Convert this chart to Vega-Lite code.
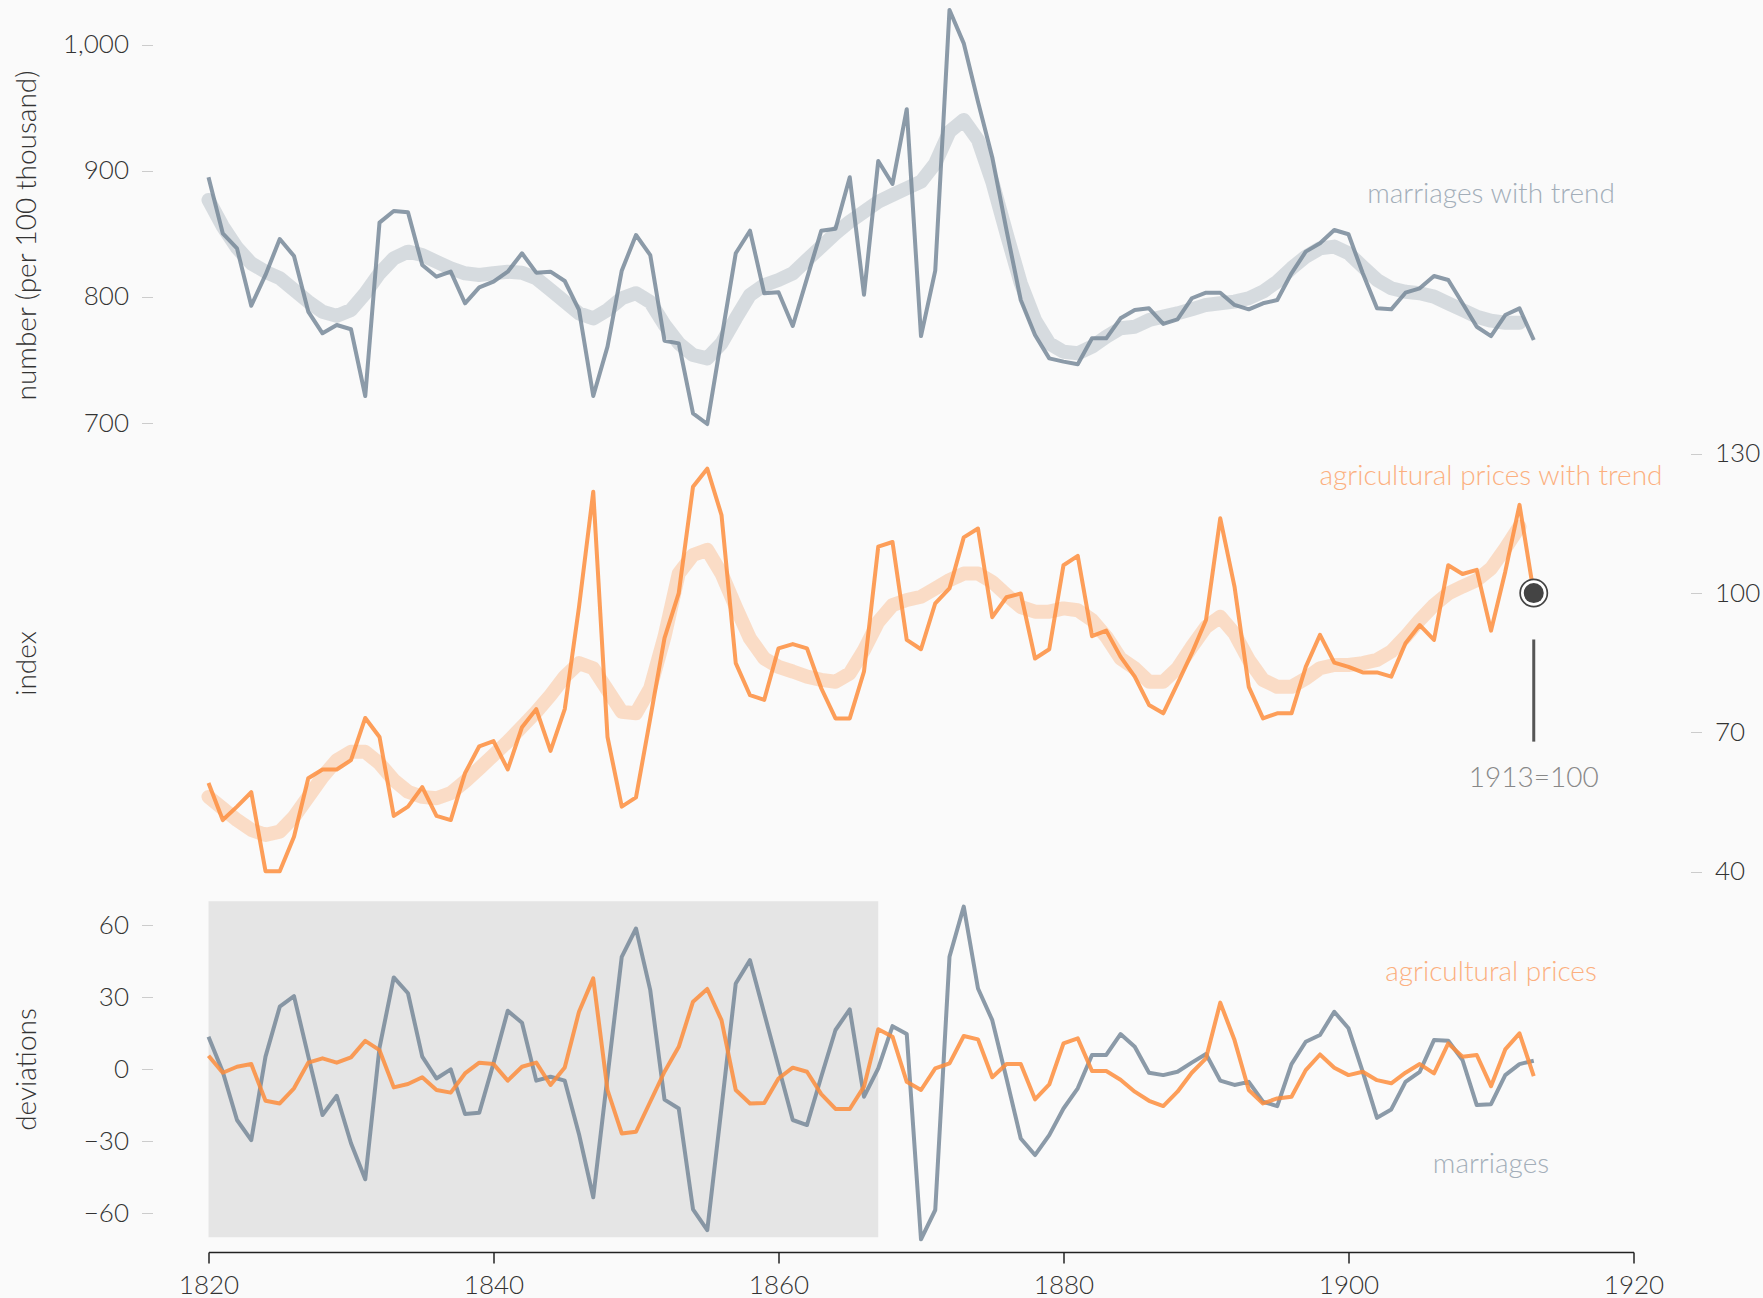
{
  "$schema": "https://vega.github.io/schema/vega-lite/v6.json",
  "background": "#fafafa",
  "autosize": {"type": "pad"},
  "padding": {"left": 12.5, "top": 0, "right": 5, "bottom": 0},
  "bounds": "flush",
  "spacing": 0,
  "config": {
    "view": {"stroke": null},
    "font": "Lato",
    "axis": {
      "grid": false,
      "labelFont": "Lato", "labelFontSize": 26, "labelFontWeight": 300, "labelColor": "#333333",
      "titleFont": "Lato", "titleFontSize": 28, "titleFontWeight": 300, "titleColor": "#333333"
    }
  },
  "datasets": {
    "years": [
      {"year":1820,"marriages":895,"marriageTrend":877,"prices":59.1,"priceTrend":56.1,"marriageDeviation":13.6,"priceDeviation":5.7},
      {"year":1821,"marriages":850.5,"marriageTrend":856,"prices":51.1,"priceTrend":53.6,"marriageDeviation":-1,"priceDeviation":-1.4},
      {"year":1822,"marriages":838.6,"marriageTrend":839,"prices":54,"priceTrend":51.1,"marriageDeviation":-21.1,"priceDeviation":1.1},
      {"year":1823,"marriages":793.1,"marriageTrend":826.7,"prices":57.1,"priceTrend":49,"marriageDeviation":-29.5,"priceDeviation":2.2},
      {"year":1824,"marriages":817.5,"marriageTrend":820,"prices":40.1,"priceTrend":47.9,"marriageDeviation":5.3,"priceDeviation":-13.1},
      {"year":1825,"marriages":846,"marriageTrend":815,"prices":40.1,"priceTrend":48.6,"marriageDeviation":26.1,"priceDeviation":-14.2},
      {"year":1826,"marriages":832.5,"marriageTrend":805.6,"prices":47.5,"priceTrend":51.8,"marriageDeviation":30.5,"priceDeviation":-7.9},
      {"year":1827,"marriages":788.4,"marriageTrend":796.3,"prices":60.1,"priceTrend":56.1,"marriageDeviation":5.5,"priceDeviation":2.8},
      {"year":1828,"marriages":771.2,"marriageTrend":788.3,"prices":62,"priceTrend":60.4,"marriageDeviation":-19,"priceDeviation":4.6},
      {"year":1829,"marriages":777.8,"marriageTrend":785,"prices":62,"priceTrend":64,"marriageDeviation":-11,"priceDeviation":2.8},
      {"year":1830,"marriages":774.4,"marriageTrend":789.7,"prices":64,"priceTrend":65.8,"marriageDeviation":-30.8,"priceDeviation":5},
      {"year":1831,"marriages":721.4,"marriageTrend":802.9,"prices":73.1,"priceTrend":65.8,"marriageDeviation":-45.8,"priceDeviation":11.9},
      {"year":1832,"marriages":859,"marriageTrend":818.8,"prices":69,"priceTrend":63.3,"marriageDeviation":9,"priceDeviation":8},
      {"year":1833,"marriages":868.3,"marriageTrend":830.7,"prices":52,"priceTrend":59.7,"marriageDeviation":38.3,"priceDeviation":-7.5},
      {"year":1834,"marriages":867.2,"marriageTrend":836,"prices":54,"priceTrend":57.2,"marriageDeviation":31.7,"priceDeviation":-6.1},
      {"year":1835,"marriages":825.4,"marriageTrend":833.3,"prices":58.2,"priceTrend":56.1,"marriageDeviation":5.3,"priceDeviation":-3.3},
      {"year":1836,"marriages":816.1,"marriageTrend":828,"prices":52,"priceTrend":55.8,"marriageDeviation":-3.8,"priceDeviation":-8.6},
      {"year":1837,"marriages":820.1,"marriageTrend":822.8,"prices":51.1,"priceTrend":56.9,"marriageDeviation":0,"priceDeviation":-9.7},
      {"year":1838,"marriages":795,"marriageTrend":818.8,"prices":61.2,"priceTrend":59.4,"marriageDeviation":-18.6,"priceDeviation":-1.7},
      {"year":1839,"marriages":807.7,"marriageTrend":817.5,"prices":67,"priceTrend":62.2,"marriageDeviation":-18.1,"priceDeviation":2.8},
      {"year":1840,"marriages":812.2,"marriageTrend":818.8,"prices":68.1,"priceTrend":65.1,"marriageDeviation":2.5,"priceDeviation":2.2},
      {"year":1841,"marriages":820.1,"marriageTrend":820,"prices":62,"priceTrend":68,"marriageDeviation":24.4,"priceDeviation":-4.7},
      {"year":1842,"marriages":834.7,"marriageTrend":819.3,"prices":71.1,"priceTrend":71.2,"marriageDeviation":19.4,"priceDeviation":1.1},
      {"year":1843,"marriages":819.3,"marriageTrend":814.8,"prices":75,"priceTrend":74.4,"marriageDeviation":-4.7,"priceDeviation":2.8},
      {"year":1844,"marriages":820.1,"marriageTrend":805.6,"prices":66,"priceTrend":78,"marriageDeviation":-3.1,"priceDeviation":-6.5},
      {"year":1845,"marriages":812.7,"marriageTrend":796.3,"prices":75,"priceTrend":82,"marriageDeviation":-4.7,"priceDeviation":0.8},
      {"year":1846,"marriages":789.7,"marriageTrend":787,"prices":97,"priceTrend":84.9,"marriageDeviation":-27,"priceDeviation":24},
      {"year":1847,"marriages":721.4,"marriageTrend":783,"prices":121.8,"priceTrend":83.8,"marriageDeviation":-53.3,"priceDeviation":37.9},
      {"year":1848,"marriages":760.6,"marriageTrend":789.7,"prices":69,"priceTrend":79.1,"marriageDeviation":-3,"priceDeviation":-8.6},
      {"year":1849,"marriages":820.9,"marriageTrend":799,"prices":54,"priceTrend":74.4,"marriageDeviation":46.9,"priceDeviation":-26.7},
      {"year":1850,"marriages":849.2,"marriageTrend":803,"prices":56,"priceTrend":74.1,"marriageDeviation":58.7,"priceDeviation":-26},
      {"year":1851,"marriages":833.3,"marriageTrend":796,"prices":73,"priceTrend":79.5,"marriageDeviation":33,"priceDeviation":-13.5},
      {"year":1852,"marriages":765.3,"marriageTrend":778,"prices":90.3,"priceTrend":90.6,"marriageDeviation":-12.6,"priceDeviation":-1},
      {"year":1853,"marriages":763.2,"marriageTrend":763.2,"prices":100,"priceTrend":104.2,"marriageDeviation":-16.3,"priceDeviation":9.4},
      {"year":1854,"marriages":707.7,"marriageTrend":754,"prices":122.9,"priceTrend":108.2,"marriageDeviation":-58.3,"priceDeviation":28.2},
      {"year":1855,"marriages":699.2,"marriageTrend":751.3,"prices":126.8,"priceTrend":109.3,"marriageDeviation":-67,"priceDeviation":33.5},
      {"year":1856,"marriages":767.2,"marriageTrend":763.2,"prices":116.8,"priceTrend":104.2,"marriageDeviation":-16,"priceDeviation":20.5},
      {"year":1857,"marriages":834.7,"marriageTrend":783,"prices":84.9,"priceTrend":97,"marriageDeviation":35.8,"priceDeviation":-8.6},
      {"year":1858,"marriages":852.6,"marriageTrend":801.6,"prices":78,"priceTrend":90.2,"marriageDeviation":45.5,"priceDeviation":-14.2},
      {"year":1859,"marriages":802.9,"marriageTrend":809.5,"prices":77,"priceTrend":85.9,"marriageDeviation":23.3,"priceDeviation":-14},
      {"year":1860,"marriages":803.7,"marriageTrend":813.5,"prices":88.1,"priceTrend":84.1,"marriageDeviation":1.1,"priceDeviation":-3.8},
      {"year":1861,"marriages":777,"marriageTrend":818.8,"prices":89,"priceTrend":83.1,"marriageDeviation":-21.1,"priceDeviation":0.7},
      {"year":1862,"marriages":814.8,"marriageTrend":829.4,"prices":88.1,"priceTrend":82,"marriageDeviation":-23.2,"priceDeviation":-1},
      {"year":1863,"marriages":852.6,"marriageTrend":840,"prices":79.5,"priceTrend":81.3,"marriageDeviation":-3.1,"priceDeviation":-10.3},
      {"year":1864,"marriages":854.2,"marriageTrend":850.5,"prices":73,"priceTrend":80.9,"marriageDeviation":16.4,"priceDeviation":-16.5},
      {"year":1865,"marriages":895,"marriageTrend":859.8,"prices":73,"priceTrend":82.7,"marriageDeviation":25,"priceDeviation":-16.5},
      {"year":1866,"marriages":801.8,"marriageTrend":867.7,"prices":83.1,"priceTrend":87.7,"marriageDeviation":-11.4,"priceDeviation":-7.2},
      {"year":1867,"marriages":907.9,"marriageTrend":875.6,"prices":110,"priceTrend":93.8,"marriageDeviation":0.4,"priceDeviation":16.7},
      {"year":1868,"marriages":889.7,"marriageTrend":881,"prices":111,"priceTrend":97.4,"marriageDeviation":18,"priceDeviation":13.6},
      {"year":1869,"marriages":949,"marriageTrend":886.3,"prices":89.9,"priceTrend":98.5,"marriageDeviation":14.7,"priceDeviation":-5.2},
      {"year":1870,"marriages":769,"marriageTrend":891.5,"prices":87.9,"priceTrend":99.2,"marriageDeviation":-70.8,"priceDeviation":-8.6},
      {"year":1871,"marriages":820.9,"marriageTrend":906,"prices":97.8,"priceTrend":101,"marriageDeviation":-58.6,"priceDeviation":0.4},
      {"year":1872,"marriages":1027.8,"marriageTrend":931.2,"prices":101,"priceTrend":102.8,"marriageDeviation":46.9,"priceDeviation":2.5},
      {"year":1873,"marriages":1001.3,"marriageTrend":940.5,"prices":112,"priceTrend":104.2,"marriageDeviation":67.8,"priceDeviation":13.9},
      {"year":1874,"marriages":955,"marriageTrend":924.6,"prices":113.9,"priceTrend":104.2,"marriageDeviation":33.7,"priceDeviation":12.5},
      {"year":1875,"marriages":911,"marriageTrend":891.5,"prices":94.8,"priceTrend":102.4,"marriageDeviation":20.5,"priceDeviation":-3.3},
      {"year":1876,"marriages":853,"marriageTrend":850.5,"prices":99.1,"priceTrend":99.6,"marriageDeviation":-3.8,"priceDeviation":2.2},
      {"year":1877,"marriages":797.6,"marriageTrend":810.9,"prices":99.9,"priceTrend":97,"marriageDeviation":-28.8,"priceDeviation":2.2},
      {"year":1878,"marriages":769.8,"marriageTrend":781.7,"prices":85.9,"priceTrend":96,"marriageDeviation":-35.7,"priceDeviation":-12.5},
      {"year":1879,"marriages":751.3,"marriageTrend":763.2,"prices":87.9,"priceTrend":96,"marriageDeviation":-27.4,"priceDeviation":-6.3},
      {"year":1880,"marriages":748.7,"marriageTrend":756.6,"prices":106,"priceTrend":96.7,"marriageDeviation":-16.3,"priceDeviation":10.8},
      {"year":1881,"marriages":746.6,"marriageTrend":755.3,"prices":108,"priceTrend":96.3,"marriageDeviation":-7.9,"priceDeviation":12.9},
      {"year":1882,"marriages":767.2,"marriageTrend":760.6,"prices":90.7,"priceTrend":94.2,"marriageDeviation":6,"priceDeviation":-0.7},
      {"year":1883,"marriages":767.2,"marriageTrend":768.5,"prices":91.9,"priceTrend":90.6,"marriageDeviation":6,"priceDeviation":-0.7},
      {"year":1884,"marriages":783.1,"marriageTrend":775.2,"prices":86.3,"priceTrend":85.9,"marriageDeviation":14.7,"priceDeviation":-4.3},
      {"year":1885,"marriages":789.7,"marriageTrend":776.4,"prices":82,"priceTrend":83.8,"marriageDeviation":9.4,"priceDeviation":-9.3},
      {"year":1886,"marriages":791,"marriageTrend":781.7,"prices":75.9,"priceTrend":80.9,"marriageDeviation":-1.4,"priceDeviation":-13.1},
      {"year":1887,"marriages":778.6,"marriageTrend":784.4,"prices":74.1,"priceTrend":80.9,"marriageDeviation":-2.4,"priceDeviation":-15.3},
      {"year":1888,"marriages":782.3,"marriageTrend":787,"prices":80.5,"priceTrend":83.8,"marriageDeviation":-1,"priceDeviation":-9.3},
      {"year":1889,"marriages":799,"marriageTrend":790.2,"prices":87,"priceTrend":88.4,"marriageDeviation":2.8,"priceDeviation":-1.4},
      {"year":1890,"marriages":803.4,"marriageTrend":793.7,"prices":94.2,"priceTrend":92.7,"marriageDeviation":6.4,"priceDeviation":4.6},
      {"year":1891,"marriages":803.4,"marriageTrend":795,"prices":116.1,"priceTrend":94.9,"marriageDeviation":-4.7,"priceDeviation":27.8},
      {"year":1892,"marriages":793.7,"marriageTrend":796.3,"prices":101.4,"priceTrend":91.3,"marriageDeviation":-6.5,"priceDeviation":12.2},
      {"year":1893,"marriages":790.2,"marriageTrend":799,"prices":79.8,"priceTrend":85.6,"marriageDeviation":-5.2,"priceDeviation":-8.6},
      {"year":1894,"marriages":795,"marriageTrend":804.2,"prices":73,"priceTrend":81.3,"marriageDeviation":-13.5,"priceDeviation":-14.2},
      {"year":1895,"marriages":797.6,"marriageTrend":812.2,"prices":74.1,"priceTrend":79.8,"marriageDeviation":-15.3,"priceDeviation":-12.1},
      {"year":1896,"marriages":818.8,"marriageTrend":822.8,"prices":74.1,"priceTrend":79.8,"marriageDeviation":2.2,"priceDeviation":-11.4},
      {"year":1897,"marriages":836,"marriageTrend":832,"prices":84.1,"priceTrend":81.6,"marriageDeviation":11.5,"priceDeviation":-0.3},
      {"year":1898,"marriages":842.6,"marriageTrend":838.6,"prices":91,"priceTrend":83.8,"marriageDeviation":14.3,"priceDeviation":6.2},
      {"year":1899,"marriages":853.2,"marriageTrend":840,"prices":85,"priceTrend":84.5,"marriageDeviation":24,"priceDeviation":0.7},
      {"year":1900,"marriages":849.8,"marriageTrend":834.7,"prices":84.1,"priceTrend":84.5,"marriageDeviation":17.1,"priceDeviation":-2.4},
      {"year":1901,"marriages":818.8,"marriageTrend":824,"prices":82.9,"priceTrend":84.9,"marriageDeviation":-1,"priceDeviation":-1},
      {"year":1902,"marriages":791,"marriageTrend":813.5,"prices":82.9,"priceTrend":85.6,"marriageDeviation":-20.2,"priceDeviation":-4.5},
      {"year":1903,"marriages":790.2,"marriageTrend":806.9,"prices":82,"priceTrend":87.4,"marriageDeviation":-16.7,"priceDeviation":-5.8},
      {"year":1904,"marriages":803.4,"marriageTrend":804.2,"prices":89.2,"priceTrend":90.6,"marriageDeviation":-5.2,"priceDeviation":-1.4},
      {"year":1905,"marriages":806.9,"marriageTrend":803,"prices":93.1,"priceTrend":94.2,"marriageDeviation":-1,"priceDeviation":2.2},
      {"year":1906,"marriages":816.7,"marriageTrend":800.3,"prices":89.9,"priceTrend":97.4,"marriageDeviation":12.2,"priceDeviation":-1.7},
      {"year":1907,"marriages":813.5,"marriageTrend":795,"prices":106,"priceTrend":99.9,"marriageDeviation":11.9,"priceDeviation":10.8},
      {"year":1908,"marriages":795,"marriageTrend":789.7,"prices":104.1,"priceTrend":101.4,"marriageDeviation":3.9,"priceDeviation":5.3},
      {"year":1909,"marriages":776.4,"marriageTrend":784.4,"prices":105,"priceTrend":102.8,"marriageDeviation":-14.9,"priceDeviation":6},
      {"year":1910,"marriages":769,"marriageTrend":781.2,"prices":91.9,"priceTrend":105.3,"marriageDeviation":-14.5,"priceDeviation":-7},
      {"year":1911,"marriages":785.7,"marriageTrend":779.6,"prices":104.6,"priceTrend":109.6,"marriageDeviation":-2.4,"priceDeviation":8.3},
      {"year":1912,"marriages":791,"marriageTrend":779.6,"prices":119,"priceTrend":114.3,"marriageDeviation":2.2,"priceDeviation":15},
      {"year":1913,"marriages":765.9,"prices":100,"marriageDeviation":3.6,"priceDeviation":-2.8}
    ]
  },
  "vconcat": [
    {
      "width": 1425,
      "height": 438,
      "data": {"name": "years"},
      "encoding": {
        "x": {"field": "year", "type": "quantitative", "scale": {"domain": [1820, 1920], "nice": false, "zero": false}, "axis": null}
      },
      "layer": [
        {
          "mark": {"type": "line", "stroke": "#778899", "strokeOpacity": 0.27, "strokeWidth": 14, "strokeCap": "round", "strokeJoin": "round"},
          "encoding": {
            "y": {"field": "marriageTrend", "type": "quantitative", "title": "number (per 100 thousand)",
              "scale": {"domain": [688.1, 1035.7], "nice": false, "zero": false},
              "axis": {"orient": "left", "offset": 56, "values": [700, 800, 900, 1000], "format": ",d", "domain": false, "ticks": true, "tickSize": 11, "tickColor": "#cccccc", "tickWidth": 1, "labelPadding": 13, "titleAngle": 270, "titleAlign": "center", "titleBaseline": "middle", "titleX": -125.5, "titleY": 235}}
          }
        },
        {
          "mark": {"type": "line", "stroke": "#778899", "strokeOpacity": 0.85, "strokeWidth": 4, "strokeJoin": "round"},
          "encoding": {"y": {"field": "marriages", "type": "quantitative", "title": "number (per 100 thousand)",
              "axis": {"orient": "left", "offset": 56, "values": [700, 800, 900, 1000], "format": ",d", "domain": false, "ticks": true, "tickSize": 11, "tickColor": "#cccccc", "tickWidth": 1, "labelPadding": 13, "titleAngle": 270, "titleAlign": "center", "titleBaseline": "middle", "titleX": -125.5, "titleY": 235}}}
        },
        {
          "data": {"values": [{"year": 1910, "value": 881, "label": "marriages with trend"}]},
          "mark": {"type": "text", "font": "Lato", "fontSize": 28, "fontWeight": 300, "color": "#a3aeb9", "align": "center", "baseline": "middle"},
          "encoding": {
            "y": {"field": "value", "type": "quantitative", "title": "number (per 100 thousand)",
              "axis": {"orient": "left", "offset": 56, "values": [700, 800, 900, 1000], "format": ",d", "domain": false, "ticks": true, "tickSize": 11, "tickColor": "#cccccc", "tickWidth": 1, "labelPadding": 13, "titleAngle": 270, "titleAlign": "center", "titleBaseline": "middle", "titleX": -125.5, "titleY": 235}},
            "text": {"field": "label"}
          }
        }
      ]
    },
    {
      "width": 1425,
      "height": 448,
      "data": {"name": "years"},
      "encoding": {
        "x": {"field": "year", "type": "quantitative", "scale": {"domain": [1820, 1920], "nice": false, "zero": false}, "axis": null}
      },
      "layer": [
        {
          "mark": {"type": "line", "stroke": "#fd8d3c", "strokeOpacity": 0.27, "strokeWidth": 14, "strokeCap": "round", "strokeJoin": "round"},
          "encoding": {
            "y": {"field": "priceTrend", "type": "quantitative", "title": "index",
              "scale": {"domain": [36.9, 133.4], "nice": false, "zero": false},
              "axis": {"orient": "right", "offset": 57, "values": [40, 70, 100, 130], "format": "d", "domain": false, "ticks": true, "tickSize": 11, "tickColor": "#cccccc", "tickWidth": 1, "labelPadding": 13, "titleAngle": 270, "titleAlign": "center", "titleBaseline": "middle", "titleX": -1663.5, "titleY": 225}}
          }
        },
        {
          "mark": {"type": "line", "stroke": "#fd8d3c", "strokeOpacity": 0.85, "strokeWidth": 4, "strokeJoin": "round"},
          "encoding": {"y": {"field": "prices", "type": "quantitative", "title": "index",
              "axis": {"orient": "right", "offset": 57, "values": [40, 70, 100, 130], "format": "d", "domain": false, "ticks": true, "tickSize": 11, "tickColor": "#cccccc", "tickWidth": 1, "labelPadding": 13, "titleAngle": 270, "titleAlign": "center", "titleBaseline": "middle", "titleX": -1663.5, "titleY": 225}}}
        },
        {
          "data": {"values": [{"year": 1913, "from": 90, "to": 68}]},
          "mark": {"type": "rule", "color": "#555555", "strokeWidth": 3},
          "encoding": {
            "y": {"field": "from", "type": "quantitative", "title": "index",
              "axis": {"orient": "right", "offset": 57, "values": [40, 70, 100, 130], "format": "d", "domain": false, "ticks": true, "tickSize": 11, "tickColor": "#cccccc", "tickWidth": 1, "labelPadding": 13, "titleAngle": 270, "titleAlign": "center", "titleBaseline": "middle", "titleX": -1663.5, "titleY": 225}},
            "y2": {"field": "to"}
          }
        },
        {
          "data": {"values": [{"year": 1913, "value": 100}]},
          "mark": {"type": "point", "shape": "circle", "filled": true, "fill": "#ffffff", "fillOpacity": 1, "stroke": "#444444", "strokeWidth": 1.7, "size": 740, "opacity": 1},
          "encoding": {"y": {"field": "value", "type": "quantitative", "title": "index",
              "axis": {"orient": "right", "offset": 57, "values": [40, 70, 100, 130], "format": "d", "domain": false, "ticks": true, "tickSize": 11, "tickColor": "#cccccc", "tickWidth": 1, "labelPadding": 13, "titleAngle": 270, "titleAlign": "center", "titleBaseline": "middle", "titleX": -1663.5, "titleY": 225}}}
        },
        {
          "data": {"values": [{"year": 1913, "value": 100}]},
          "mark": {"type": "point", "shape": "circle", "filled": true, "fill": "#444444", "fillOpacity": 1, "strokeWidth": 0, "size": 400, "opacity": 1},
          "encoding": {"y": {"field": "value", "type": "quantitative", "title": "index",
              "axis": {"orient": "right", "offset": 57, "values": [40, 70, 100, 130], "format": "d", "domain": false, "ticks": true, "tickSize": 11, "tickColor": "#cccccc", "tickWidth": 1, "labelPadding": 13, "titleAngle": 270, "titleAlign": "center", "titleBaseline": "middle", "titleX": -1663.5, "titleY": 225}}}
        },
        {
          "data": {"values": [{"year": 1913, "value": 60, "label": "1913=100"}]},
          "mark": {"type": "text", "font": "Lato", "fontSize": 28, "fontWeight": 300, "color": "#888888", "align": "center", "baseline": "middle"},
          "encoding": {
            "y": {"field": "value", "type": "quantitative", "title": "index",
              "axis": {"orient": "right", "offset": 57, "values": [40, 70, 100, 130], "format": "d", "domain": false, "ticks": true, "tickSize": 11, "tickColor": "#cccccc", "tickWidth": 1, "labelPadding": 13, "titleAngle": 270, "titleAlign": "center", "titleBaseline": "middle", "titleX": -1663.5, "titleY": 225}},
            "text": {"field": "label"}
          }
        },
        {
          "data": {"values": [{"year": 1910, "value": 125, "label": "agricultural prices with trend"}]},
          "mark": {"type": "text", "font": "Lato", "fontSize": 28, "fontWeight": 300, "color": "#fcb07f", "align": "center", "baseline": "middle"},
          "encoding": {
            "y": {"field": "value", "type": "quantitative", "title": "index",
              "axis": {"orient": "right", "offset": 57, "values": [40, 70, 100, 130], "format": "d", "domain": false, "ticks": true, "tickSize": 11, "tickColor": "#cccccc", "tickWidth": 1, "labelPadding": 13, "titleAngle": 270, "titleAlign": "center", "titleBaseline": "middle", "titleX": -1663.5, "titleY": 225}},
            "text": {"field": "label"}
          }
        }
      ]
    },
    {
      "width": 1425,
      "height": 366,
      "encoding": {
        "x": {"field": "year", "type": "quantitative", "scale": {"domain": [1820, 1920], "nice": false, "zero": false},
          "axis": {"orient": "bottom", "values": [1820, 1840, 1860, 1880, 1900, 1920], "format": "d", "title": null, "domain": true, "domainColor": "#222222", "domainWidth": 1.5, "ticks": true, "tickColor": "#222222", "tickWidth": 1.5, "tickSize": 11, "labelPadding": 9, "labelFlush": false}}
      },
      "layer": [
        {
          "data": {"values": [{"start": 1820, "end": 1867, "low": -70, "high": 70}]},
          "mark": {"type": "rect", "color": "#e5e5e5", "opacity": 1},
          "encoding": {
            "x": {"field": "start", "type": "quantitative",
              "axis": {"orient": "bottom", "values": [1820, 1840, 1860, 1880, 1900, 1920], "format": "d", "title": null, "domain": true, "domainColor": "#222222", "domainWidth": 1.5, "ticks": true, "tickColor": "#222222", "tickWidth": 1.5, "tickSize": 11, "labelPadding": 9, "labelFlush": false}},
            "x2": {"field": "end"},
            "y": {"field": "low", "type": "quantitative", "title": "deviations",
              "scale": {"domain": [-76.1, 76.4], "nice": false, "zero": false},
              "axis": {"orient": "left", "offset": 56, "values": [-60, -30, 0, 30, 60], "format": "d", "domain": false, "ticks": true, "tickSize": 11, "tickColor": "#cccccc", "tickWidth": 1, "labelPadding": 13, "titleAngle": 270, "titleAlign": "center", "titleBaseline": "middle", "titleX": -125.5, "titleY": 183}},
            "y2": {"field": "high"}
          }
        },
        {
          "data": {"name": "years"},
          "mark": {"type": "line", "stroke": "#778899", "strokeOpacity": 0.85, "strokeWidth": 4, "strokeJoin": "round"},
          "encoding": {"y": {"field": "marriageDeviation", "type": "quantitative", "title": "deviations",
              "axis": {"orient": "left", "offset": 56, "values": [-60, -30, 0, 30, 60], "format": "d", "domain": false, "ticks": true, "tickSize": 11, "tickColor": "#cccccc", "tickWidth": 1, "labelPadding": 13, "titleAngle": 270, "titleAlign": "center", "titleBaseline": "middle", "titleX": -125.5, "titleY": 183}}}
        },
        {
          "data": {"name": "years"},
          "mark": {"type": "line", "stroke": "#fd8d3c", "strokeOpacity": 0.85, "strokeWidth": 4, "strokeJoin": "round"},
          "encoding": {"y": {"field": "priceDeviation", "type": "quantitative", "title": "deviations",
              "axis": {"orient": "left", "offset": 56, "values": [-60, -30, 0, 30, 60], "format": "d", "domain": false, "ticks": true, "tickSize": 11, "tickColor": "#cccccc", "tickWidth": 1, "labelPadding": 13, "titleAngle": 270, "titleAlign": "center", "titleBaseline": "middle", "titleX": -125.5, "titleY": 183}}}
        },
        {
          "data": {"values": [{"year": 1910, "value": 40, "label": "agricultural prices"}]},
          "mark": {"type": "text", "font": "Lato", "fontSize": 28, "fontWeight": 300, "color": "#fcb07f", "align": "center", "baseline": "middle"},
          "encoding": {
            "y": {"field": "value", "type": "quantitative", "title": "deviations",
              "axis": {"orient": "left", "offset": 56, "values": [-60, -30, 0, 30, 60], "format": "d", "domain": false, "ticks": true, "tickSize": 11, "tickColor": "#cccccc", "tickWidth": 1, "labelPadding": 13, "titleAngle": 270, "titleAlign": "center", "titleBaseline": "middle", "titleX": -125.5, "titleY": 183}},
            "text": {"field": "label"}
          }
        },
        {
          "data": {"values": [{"year": 1910, "value": -40, "label": "marriages"}]},
          "mark": {"type": "text", "font": "Lato", "fontSize": 28, "fontWeight": 300, "color": "#a3aeb9", "align": "center", "baseline": "middle"},
          "encoding": {
            "y": {"field": "value", "type": "quantitative", "title": "deviations",
              "axis": {"orient": "left", "offset": 56, "values": [-60, -30, 0, 30, 60], "format": "d", "domain": false, "ticks": true, "tickSize": 11, "tickColor": "#cccccc", "tickWidth": 1, "labelPadding": 13, "titleAngle": 270, "titleAlign": "center", "titleBaseline": "middle", "titleX": -125.5, "titleY": 183}},
            "text": {"field": "label"}
          }
        }
      ]
    }
  ]
}
